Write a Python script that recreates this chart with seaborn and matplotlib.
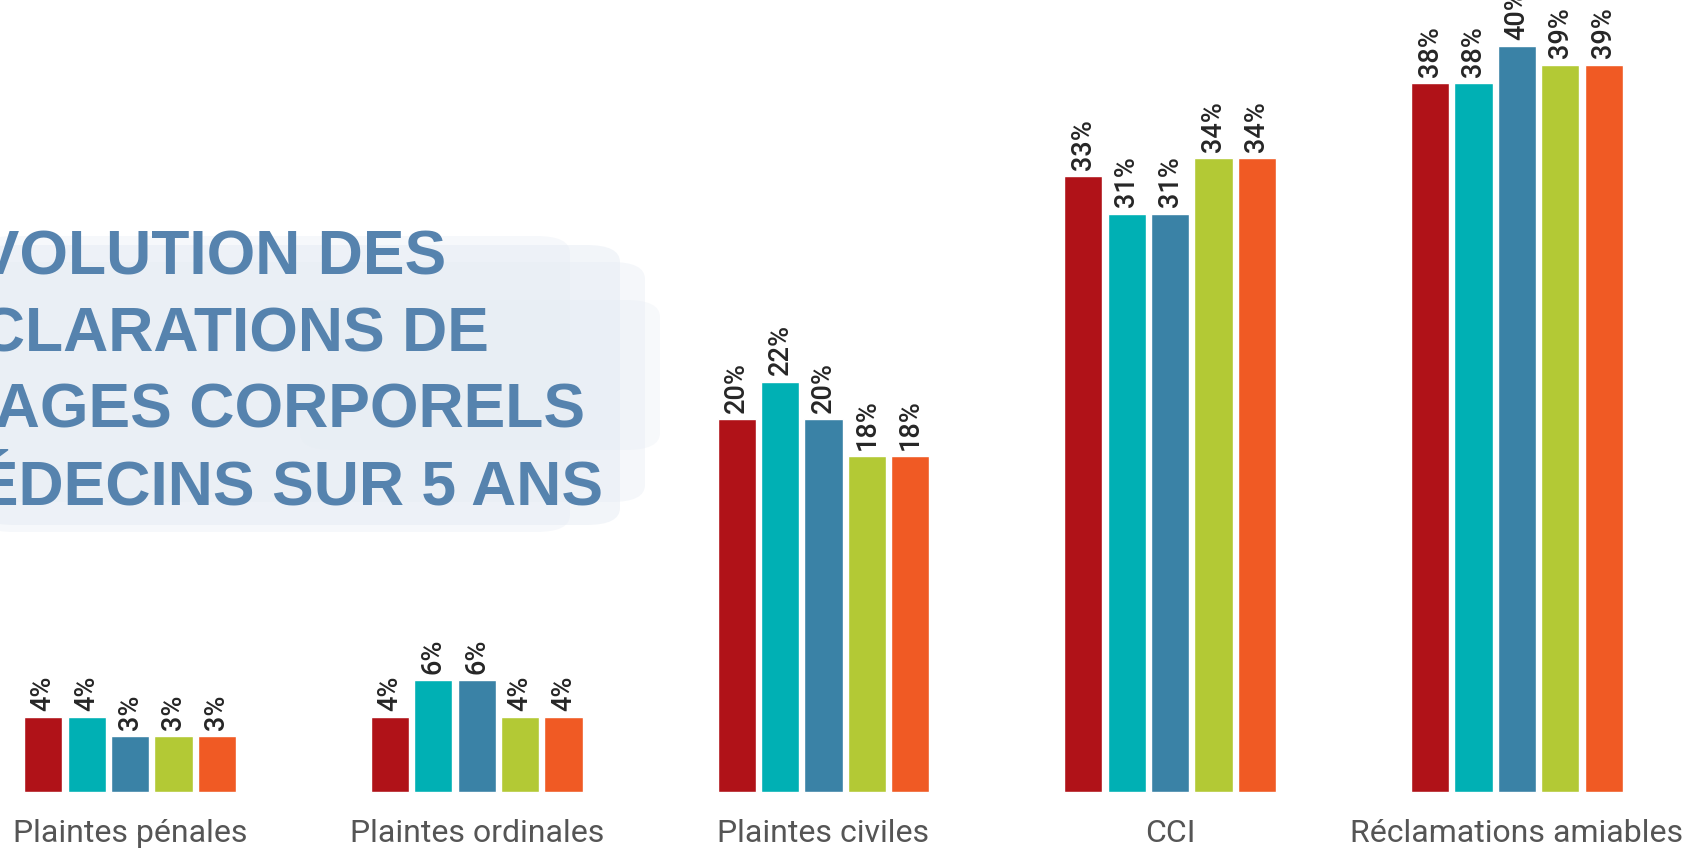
import matplotlib
matplotlib.use("Agg")
import matplotlib.pyplot as plt
import seaborn as sns
import pandas as pd
from matplotlib.patches import FancyBboxPatch

categories = ["Plaintes pénales", "Plaintes ordinales", "Plaintes civiles", "CCI", "Réclamations amiables"]
years = ["2015", "2016", "2017", "2018", "2019"]
values = {
    "2015": [4, 4, 20, 33, 38],
    "2016": [4, 6, 22, 31, 38],
    "2017": [3, 6, 20, 31, 40],
    "2018": [3, 4, 18, 34, 39],
    "2019": [3, 4, 18, 34, 39],
}
colors = ["#B01218", "#00B0B4", "#3A82A6", "#B3C935", "#F05A24"]
title_lines = ["ÉVOLUTION DES", "DÉCLARATIONS DE", "DOMMAGES CORPORELS", "DES MÉDECINS SUR 5 ANS"]

rows = []
for y in years:
    for c, v in zip(categories, values[y]):
        rows.append({"cat": c, "year": y, "val": v})
df = pd.DataFrame(rows)

sns.set_style("white")
plt.rcParams["font.family"] = ["Roboto", "DejaVu Sans"]

W, H = 1685, 849
fig = plt.figure(figsize=(W / 100, H / 100), dpi=100)
fig.patch.set_facecolor("white")

# brush-like background behind the title
for (x0, y0, w, h, a) in [(-20, 245, 640, 280, 0.5), (-20, 262, 665, 240, 0.4),
                          (-20, 236, 590, 296, 0.35), (300, 300, 360, 150, 0.3)]:
    p = FancyBboxPatch((x0 / W, 1 - (y0 + h) / H), w / W, h / H,
                       boxstyle="round,pad=0,rounding_size=0.02",
                       transform=fig.transFigure, facecolor="#e6ecf4", edgecolor="none",
                       alpha=a, zorder=0)
    fig.patches.append(p)

ax = fig.add_axes([0, 0, 1, 1])
ax.patch.set_alpha(0)
sns.barplot(data=df, x="cat", y="val", hue="year", order=categories, hue_order=years,
            palette=colors, width=0.626, gap=0.12, saturation=1, legend=False, ax=ax)

for cont in ax.containers:
    ax.bar_label(cont, labels=[f"{int(b.get_height())}%" for b in cont], rotation=90,
                 padding=4.5, fontsize=19.5, color="#262626", fontweight="medium")

ax.set_xlim(-0.375, 4.485)
ax.set_ylim(-3.06, 42.46)
ax.axis("off")

for i, c in enumerate(categories):
    ax.text(i, -2.25, c, ha="center", va="center", fontsize=23, color="#555555")

ys = [257, 334, 411, 488]
for line, yy in zip(title_lines, ys):
    fig.text(191 / W, 1 - yy / H, line, ha="center", va="center", fontsize=45,
             fontweight="bold", family=["Liberation Sans", "DejaVu Sans"], color="#5683AE", zorder=5)

fig.savefig("out.png", dpi=100)
